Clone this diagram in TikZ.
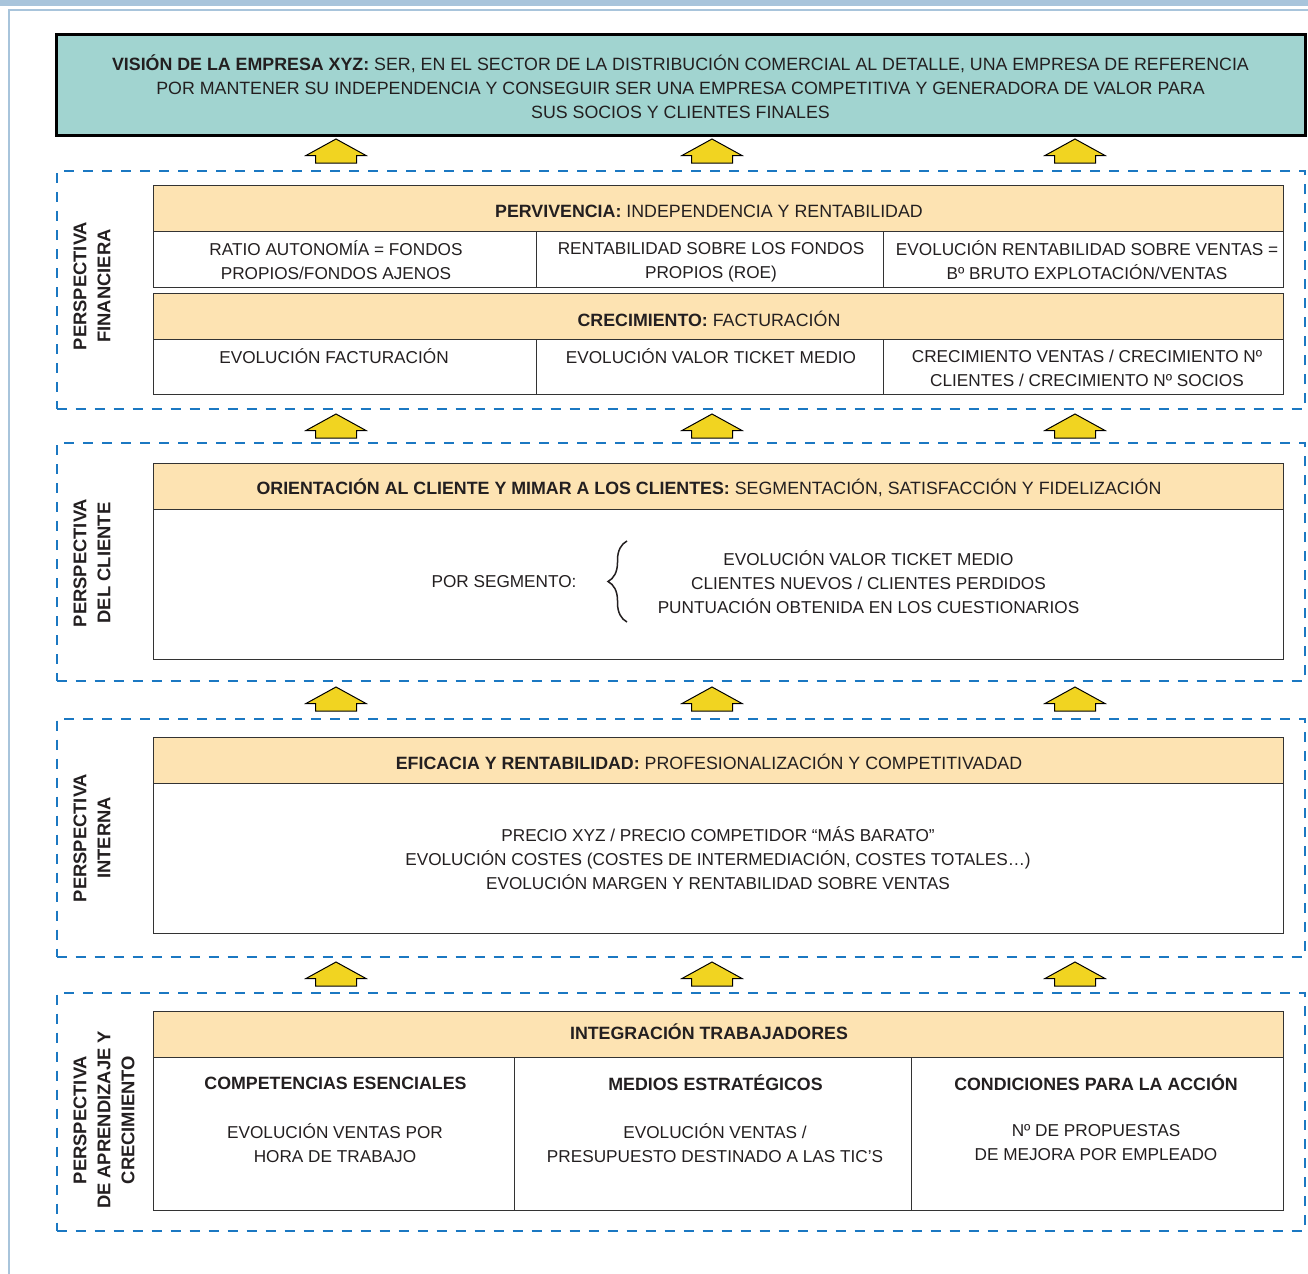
\documentclass[tikz,border=0pt]{standalone}
\usepackage{fontspec}
\setmainfont{Liberation Sans}
\usetikzlibrary{positioning,decorations.pathreplacing}

\definecolor{visionfill}{HTML}{A1D4D0}
\definecolor{barfill}{HTML}{FDE3B2}
\definecolor{arrowfill}{HTML}{F1D421}
\definecolor{dashblue}{HTML}{1B78C2}
\definecolor{frameblue}{HTML}{A8C4DB}
\definecolor{ink}{HTML}{231F20}

\tikzset{
  txt/.style={font=\fontsize{8.6}{12}\selectfont, text=ink, align=center, inner sep=0pt},
  bigtxt/.style={txt, font=\fontsize{8.9}{12}\selectfont},
  sidetxt/.style={txt, font=\fontsize{9.2}{12}\selectfont\bfseries, rotate=90},
  vision/.style={draw=black, line width=1.5pt, fill=visionfill, minimum width=624.5pt, minimum height=50.5pt, inner sep=0pt},
  group/.style={draw=dashblue, line width=1pt, dash pattern=on 5pt off 4.5pt, minimum width=624pt, minimum height=119pt, inner sep=0pt},
  bar/.style={draw=black!80, line width=0.5pt, fill=barfill, minimum width=565pt, minimum height=23pt, inner sep=0pt},
  cell/.style={draw=black!80, line width=0.5pt, fill=white, inner sep=0pt},
  uparrow/.pic={\draw[fill=arrowfill, draw=black, line width=0.5pt]
      (0,0) -- (30,16.5) -- (20.5,16.5) -- (20.5,24) -- (-20.5,24) -- (-20.5,16.5) -- (-30,16.5) -- cycle;}
}

\begin{document}
\begin{tikzpicture}[x=0.5pt, y=-0.5pt]

  \useasboundingbox (0,0) rectangle (1308,1274);

  % marco de la pagina
  \fill[frameblue] (0,0) rectangle (1308,6);
  \draw[frameblue, line width=1pt] (8,9.5) -- (1308,9.5);
  \draw[frameblue, line width=1pt] (8.5,9) -- (8.5,1274);

  % --- Vision ---
  \node[vision] (vision) at (680.5,84.5) {};
  \node[bigtxt] (visiontxt) at (680.5,87) {\textbf{VISIÓN DE LA EMPRESA XYZ:} SER, EN EL SECTOR DE LA DISTRIBUCIÓN COMERCIAL AL DETALLE, UNA EMPRESA DE REFERENCIA\\
    POR MANTENER SU INDEPENDENCIA Y CONSEGUIR SER UNA EMPRESA COMPETITIVA Y GENERADORA DE VALOR PARA\\
    SUS SOCIOS Y CLIENTES FINALES};

  % --- Grupos (perspectivas) ---
  \node[group] (gfin) at (680.5,290) {};
  \node[group] (gcli) at (680.5,562) {};
  \node[group] (gint) at (680.5,837.5) {};
  \node[group] (gapr) at (680.5,1111.5) {};

  \node[sidetxt] (lfin) at (92,286) {PERSPECTIVA\\FINANCIERA};
  \node[sidetxt] (lcli) at (92,563) {PERSPECTIVA\\DEL CLIENTE};
  \node[sidetxt] (lint) at (92,838) {PERSPECTIVA\\INTERNA};
  \node[sidetxt] (lapr) at (104,1120) {PERSPECTIVA\\DE APRENDIZAJE Y\\CRECIMIENTO};

  % --- Flechas entre niveles ---
  \foreach \ya in {139,414,687,962}
    \foreach \xa in {336,712,1075}
      \pic at (\xa,\ya) {uparrow};

  % --- Perspectiva financiera ---
  \node[bar] (perbar) at (718,208.5) {};
  \node[bigtxt] (pertxt) at (709,211) {\textbf{PERVIVENCIA:} INDEPENDENCIA Y RENTABILIDAD};
  \node[cell, minimum width=191.5pt, minimum height=28pt] (per1) at (344.5,259) {};
  \node[cell, minimum width=173.5pt, minimum height=28pt] (per2) at (709.5,259) {};
  \node[cell, minimum width=200pt, minimum height=28pt] (per3) at (1083,259) {};
  \node[txt] at (336,260) {RATIO AUTONOMÍA = FONDOS\\PROPIOS/FONDOS AJENOS};
  \node[txt] at (711,262) {RENTABILIDAD SOBRE LOS FONDOS\\PROPIOS (ROE)};
  \node[txt] at (1087,260) {EVOLUCIÓN RENTABILIDAD SOBRE VENTAS =\\Bº BRUTO EXPLOTACIÓN/VENTAS};

  \node[bar] (crebar) at (718,316) {};
  \node[bigtxt] (cretxt) at (709,319) {\textbf{CRECIMIENTO:} FACTURACIÓN};
  \node[cell, minimum width=191.5pt, minimum height=27.5pt] (cre1) at (344.5,366.5) {};
  \node[cell, minimum width=173.5pt, minimum height=27.5pt] (cre2) at (709.5,366.5) {};
  \node[cell, minimum width=200pt, minimum height=27.5pt] (cre3) at (1083,366.5) {};
  \node[txt] at (334,356) {EVOLUCIÓN FACTURACIÓN};
  \node[txt] at (711,356) {EVOLUCIÓN VALOR TICKET MEDIO};
  \node[txt] at (1087,368) {CRECIMIENTO VENTAS / CRECIMIENTO Nº\\CLIENTES / CRECIMIENTO Nº SOCIOS};

  % --- Perspectiva del cliente ---
  \node[bar] (clibar) at (718,486) {};
  \node[bigtxt] (clitxt) at (709,488) {\textbf{ORIENTACIÓN AL CLIENTE Y MIMAR A LOS CLIENTES:} SEGMENTACIÓN, SATISFACCIÓN Y FIDELIZACIÓN};
  \node[cell, minimum width=565pt, minimum height=75pt] (clibody) at (718,584) {};
  \node[txt] (seg) at (504,582) {POR SEGMENTO:};
  \coordinate (braceb) at (627,622);
  \coordinate (bracet) at (627,541);
  \draw[ink, line width=0.75pt, decorate, decoration={brace, amplitude=9.5pt}] (braceb) -- (bracet);
  \node[txt] (segitems) at (868.5,582) {EVOLUCIÓN VALOR TICKET MEDIO\\CLIENTES NUEVOS / CLIENTES PERDIDOS\\PUNTUACIÓN OBTENIDA EN LOS CUESTIONARIOS};

  % --- Perspectiva interna ---
  \node[bar] (intbar) at (718,760.5) {};
  \node[bigtxt] (inttxt) at (709,762) {\textbf{EFICACIA Y RENTABILIDAD:} PROFESIONALIZACIÓN Y COMPETITIVADAD};
  \node[cell, minimum width=565pt, minimum height=75pt] (intbody) at (718,858) {};
  \node[txt] at (intbody.center) {PRECIO XYZ / PRECIO COMPETIDOR “MÁS BARATO”\\EVOLUCIÓN COSTES (COSTES DE INTERMEDIACIÓN, COSTES TOTALES…)\\EVOLUCIÓN MARGEN Y RENTABILIDAD SOBRE VENTAS};

  % --- Perspectiva de aprendizaje y crecimiento ---
  \node[bar] (aprbar) at (718,1034.5) {};
  \node[bigtxt] (aprtxt) at (709,1032) {\textbf{INTEGRACIÓN TRABAJADORES}};
  \node[cell, minimum width=180.5pt, minimum height=76.5pt] (apr1) at (333.5,1133.5) {};
  \node[cell, minimum width=198.5pt, minimum height=76.5pt] (apr2) at (712.5,1133.5) {};
  \node[cell, minimum width=186pt, minimum height=76.5pt] (apr3) at (1097,1133.5) {};
  \node[bigtxt] at (335.5,1083) {\textbf{COMPETENCIAS ESENCIALES}};
  \node[bigtxt] at (715.5,1083) {\textbf{MEDIOS ESTRATÉGICOS}};
  \node[bigtxt] at (1096,1083) {\textbf{CONDICIONES PARA LA ACCIÓN}};
  \node[txt] at (335,1143) {EVOLUCIÓN VENTAS POR\\HORA DE TRABAJO};
  \node[txt] at (715,1143) {EVOLUCIÓN VENTAS /\\PRESUPUESTO DESTINADO A LAS TIC’S};
  \node[txt] at (1096,1143) {Nº DE PROPUESTAS\\DE MEJORA POR EMPLEADO};

\end{tikzpicture}
\end{document}
